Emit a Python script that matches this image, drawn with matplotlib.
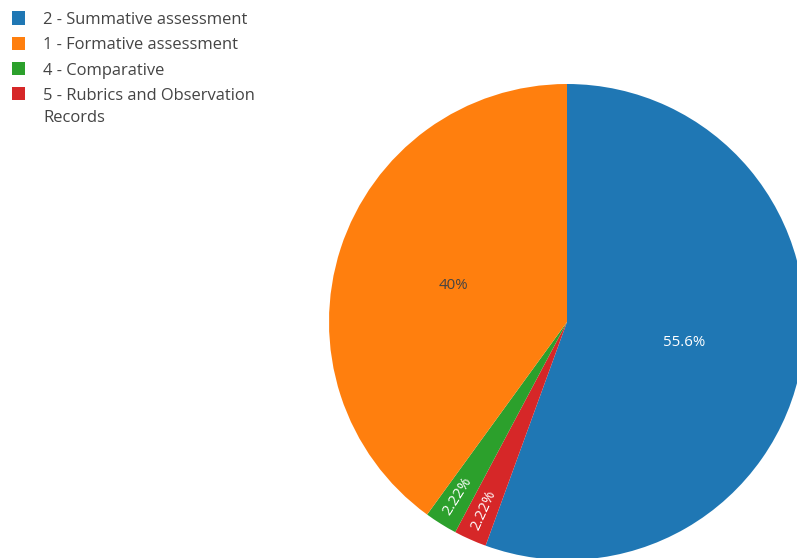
import matplotlib.pyplot as plt
import numpy as np
from matplotlib.patches import Rectangle
from matplotlib.colors import to_rgb

plt.rcParams['font.family'] = ['Open Sans', 'DejaVu Sans']

# Slices in drawing order (clockwise from 12 o'clock)
slice_labels = ['2 - Summative assessment', '5 - Rubrics and Observation\nRecords',
                '4 - Comparative', '1 - Formative assessment']
slice_counts = [25, 1, 1, 18]
slice_colors = ['#1f77b4', '#d62728', '#2ca02c', '#ff7f0e']

# Legend order
legend_labels = ['2 - Summative assessment', '1 - Formative assessment',
                 '4 - Comparative', '5 - Rubrics and Observation\nRecords']
legend_colors = ['#1f77b4', '#ff7f0e', '#2ca02c', '#d62728']

W, H = 797, 558
fig = plt.figure(figsize=(W / 100, H / 100), dpi=100)
ax = fig.add_axes([0, 0, 1, 1])

cx, cy, r = 567, H - 322, 238
wedges, _ = ax.pie(slice_counts, colors=slice_colors, startangle=90,
                   counterclock=False, center=(cx, cy), radius=r,
                   wedgeprops=dict(linewidth=0), frame=True)
ax.set_xlim(0, W)
ax.set_ylim(0, H)
ax.set_aspect('equal')
ax.axis('off')

total = sum(slice_counts)
for w, n in zip(wedges, slice_counts):
    pct = n / total * 100
    txt = f'{pct:.3g}%'
    mid = np.deg2rad((w.theta1 + w.theta2) / 2)
    if pct > 10:
        d = 0.5 * r
        color = '#444444' if w.get_facecolor()[:3] == to_rgb('#ff7f0e') else 'white'
        ax.text(cx + d * np.cos(mid), cy + d * np.sin(mid), txt, ha='center', va='center',
                fontsize=10.8, color=color)
    else:
        d = 0.865 * r
        rot = np.rad2deg(mid) + 180
        ax.text(cx + d * np.cos(mid), cy + d * np.sin(mid), txt, ha='center', va='center',
                fontsize=10.8, color='white', rotation=rot, rotation_mode='anchor')

# Legend in the top-left corner
for i, (lab, col) in enumerate(zip(legend_labels, legend_colors)):
    base = 24 + i * 25.3
    fig.patches.append(Rectangle((12 / W, 1 - (base + 0.5) / H), 13 / W, 13 / H,
                                 transform=fig.transFigure, facecolor=col, edgecolor='none'))
    for j, line in enumerate(lab.split('\n')):
        fig.text(43 / W, 1 - (base + j * 22) / H, line, ha='left', va='baseline',
                 fontsize=11.9, color='#444444')

fig.savefig('out.png', dpi=100)
